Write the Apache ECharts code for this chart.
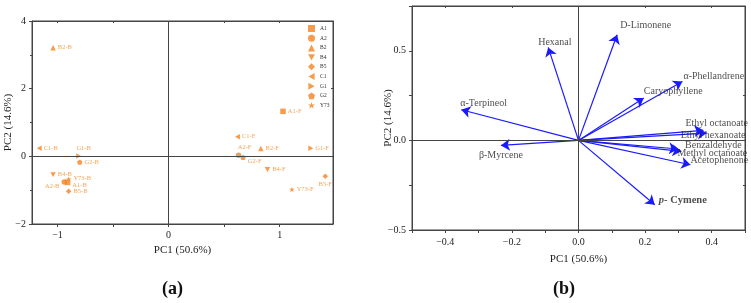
<!DOCTYPE html>
<html>
<head>
<meta charset="utf-8">
<script src="https://cdn.jsdelivr.net/npm/echarts@6/dist/echarts.min.js"></script>
<style>
  html, body { margin: 0; padding: 0; background: #fff; }
  #chart { width: 751px; height: 303px; }
</style>
</head>
<body>
<div id="chart"></div>
<script>
// ---- data (a): PCA scores ----
const groups = ["A1", "A2", "B2", "B4", "B5", "C1", "G1", "G2", "Y73"]
const scoreBX = [-0.91, -0.94, -1.04, -1.04, -0.90, -1.165, -0.81, -0.80, -0.90]
const scoreBY = [-0.77, -0.76, 3.21, -0.54, -1.03, 0.24, 0.01, -0.17, -0.67]
const scoreFX = [1.03, 0.63, 0.83, 0.89, 1.41, 0.62, 1.28, 0.67, 1.11]
const scoreFY = [1.33, 0.03, 0.23, -0.39, -0.59, 0.58, 0.24, -0.03, -0.98]

// ---- data (b): loadings ----
const compounds = ["α-Terpineol", "Hexanal", "D-Limonene", "α-Phellandrene", "Caryophyllene",
  "Ethyl octanoate", "Ethyl hexanoate", "Benzaldehyde", "Methyl octanoate", "Acetophenone",
  "p-Cymene", "β-Myrcene"]
const loadX = [-0.352, -0.091, 0.116, 0.312, 0.196, 0.375, 0.385, 0.299, 0.309, 0.336, 0.229, -0.233]
const loadY = [0.171, 0.519, 0.590, 0.329, 0.236, 0.056, 0.041, -0.048, -0.061, -0.136, -0.359, -0.028]

const fontFamily = "Liberation Serif"
const orange = "#f5821f"
const axisColor = "#444"

function starPath() {
  const pts = []
  for (let k = 0; k < 10; k++) {
    const r = k % 2 === 0 ? 5 : 2
    const a = (-90 + k * 36) * Math.PI / 180
    pts.push((5 + r * Math.cos(a)).toFixed(2) + "," + (5 + r * Math.sin(a)).toFixed(2))
  }
  return "path://M" + pts.join("L") + "Z"
}

const symbols = {
  A1: "rect",
  A2: "circle",
  B2: "triangle",
  B4: "path://M0,0L10,0L5,9Z",
  B5: "path://M5,0L10,5L5,10L0,5Z",
  C1: "path://M0,5L9,0L9,10Z",
  G1: "path://M0,0L9,5L0,10Z",
  G2: "path://M5,0L10,3.6L8.1,9.5L1.9,9.5L0,3.6Z",
  Y73: starPath()
}

// label placement for score points (a)
const scoreLabelPos = {
  "A2-B": { position: "left", offset: [0, 4] },
  "A1-B": { position: "right", offset: [0, 3] },
  "Y73-B": { position: "right", offset: [0, -1] },
  "G1-B": { position: "top", offset: [5, 1] },
  "A2-F": { position: "top", offset: [6, 0] },
  "G2-F": { position: "right", offset: [0, 4] },
  "B5-F": { position: "bottom", offset: [0, 0] }
}

// label offsets for loading arrows (b), relative to arrow tip
const loadLabelOffset = {
  "α-Terpineol": [-1, -6], "Hexanal": [-10, -5], "D-Limonene": [3, -9],
  "α-Phellandrene": [1, -5], "Caryophyllene": [0, -7], "Ethyl octanoate": [-18, -7],
  "Ethyl hexanoate": [-26, 2], "Benzaldehyde": [7, -4], "Methyl octanoate": [-4, 2],
  "Acetophenone": [0, -4], "p-Cymene": [4, -4], "β-Myrcene": [-22, 10]
}

const fmt = v => {
  const s = Math.abs(v) < 1e-9 ? (v === Math.round(v) ? "0" : "0.0") : String(v)
  return s.replace("-", "\u2212")
}

const chart = echarts.init(document.getElementById("chart"))

const commonAxis = {
  type: "value",
  splitLine: { show: false },
  nameMoveOverlap: false,
  axisLine: { show: true, onZero: false, lineStyle: { color: axisColor, width: 1 } },
  axisTick: { lineStyle: { color: axisColor } },
  axisLabel: { color: "#222", fontFamily, fontSize: 10 },
  nameTextStyle: { color: "#222", fontFamily, fontSize: 11 }
}

const scoreSeries = groups.map((g, i) => {
  const mk = (name, x, y) => {
    const p = scoreLabelPos[name] || { position: "right", offset: [0, 0] }
    return { name, value: [x, y], label: { position: p.position, offset: p.offset } }
  }
  const s = {
    name: g,
    type: "scatter",
    xAxisIndex: 0,
    yAxisIndex: 0,
    symbol: symbols[g],
    symbolSize: 5.5,
    symbolKeepAspect: true,
    itemStyle: { color: orange },
    label: {
      show: true,
      formatter: "{b}",
      color: "#f2902c",
      fontFamily,
      fontSize: 6.5,
      distance: 2
    },
    data: [mk(g + "-B", scoreBX[i], scoreBY[i]), mk(g + "-F", scoreFX[i], scoreFY[i])]
  }
  if (i === 0) {
    s.markLine = {
      silent: true,
      symbol: "none",
      label: { show: false },
      lineStyle: { color: axisColor, width: 1, type: "solid" },
      data: [{ xAxis: 0 }, { yAxis: 0 }]
    }
  }
  return s
})

const option = {
  animation: false,
  backgroundColor: "#fff",
  grid: [
    { left: 32, top: 21, width: 301, height: 203, show: true, borderColor: axisColor, borderWidth: 1 },
    { left: 412, top: 6, width: 333, height: 224, show: true, borderColor: axisColor, borderWidth: 1 }
  ],
  legend: {
    data: groups,
    orient: "vertical",
    left: 308,
    top: 25,
    itemWidth: 7,
    itemHeight: 7,
    itemGap: 2.75,
    padding: 0,
    textStyle: { fontFamily, fontSize: 5.5, color: "#333" }
  },
  xAxis: [
    Object.assign({}, commonAxis, {
      gridIndex: 0, min: -1.23, max: 1.48,
      name: "PC1 (50.6%)", nameLocation: "middle", nameGap: 21,
      axisTick: { show: true, length: 3, customValues: [-1, -0.5, 0, 0.5, 1], lineStyle: { color: axisColor } },
      axisLabel: Object.assign({}, commonAxis.axisLabel, { customValues: [-1, 0, 1], formatter: fmt, margin: 6 })
    }),
    Object.assign({}, commonAxis, {
      gridIndex: 1, min: -0.5, max: 0.5,
      name: "PC1 (50.6%)", nameLocation: "middle", nameGap: 24,
      axisTick: { show: true, length: 3, customValues: [-0.5, -0.4, -0.3, -0.2, -0.1, 0, 0.1, 0.2, 0.3, 0.4, 0.5], lineStyle: { color: axisColor } },
      axisLabel: Object.assign({}, commonAxis.axisLabel, {
        customValues: [-0.4, -0.2, 0, 0.2, 0.4],
        formatter: v => (v === 0 ? "0.0" : v.toFixed(1).replace("-", "\u2212")),
        margin: 7
      })
    }),
    Object.assign({}, commonAxis, {
      gridIndex: 0, position: "top", min: -1.23, max: 1.48,
      axisTick: { show: true, inside: true, length: 2, customValues: [-1, -0.5, 0, 0.5, 1], lineStyle: { color: axisColor } },
      axisLabel: { show: false }
    }),
    Object.assign({}, commonAxis, {
      gridIndex: 1, position: "top", min: -0.5, max: 0.5,
      axisTick: { show: true, inside: true, length: 2, customValues: [-0.4, -0.2, 0, 0.2, 0.4], lineStyle: { color: axisColor } },
      axisLabel: { show: false }
    })
  ],
  yAxis: [
    Object.assign({}, commonAxis, {
      gridIndex: 0, min: -2, max: 4, interval: 2,
      name: "PC2 (14.6%)", nameLocation: "middle", nameGap: 18,
      axisTick: { show: true, length: 3, lineStyle: { color: axisColor } },
      minorTick: { show: true, splitNumber: 2, length: 2, lineStyle: { color: axisColor } },
      axisLabel: Object.assign({}, commonAxis.axisLabel, { formatter: fmt, margin: 6 })
    }),
    Object.assign({}, commonAxis, {
      gridIndex: 1, min: -0.5, max: 0.75,
      name: "PC2 (14.6%)", nameLocation: "middle", nameGap: 18,
      axisTick: { show: true, length: 3, customValues: [-0.5, -0.25, 0, 0.25, 0.5, 0.75], lineStyle: { color: axisColor } },
      axisLabel: Object.assign({}, commonAxis.axisLabel, {
        customValues: [-0.5, 0, 0.5],
        formatter: v => (v === 0 ? "0.0" : v.toFixed(1).replace("-", "\u2212")),
        margin: 6
      })
    }),
    Object.assign({}, commonAxis, {
      gridIndex: 0, position: "right", min: -2, max: 4, interval: 2,
      axisTick: { show: true, inside: true, length: 2, lineStyle: { color: axisColor } },
      axisLabel: { show: false }
    }),
    Object.assign({}, commonAxis, {
      gridIndex: 1, position: "right", min: -0.5, max: 0.75,
      axisTick: { show: true, inside: true, length: 2, customValues: [-0.25, 0.25], lineStyle: { color: axisColor } },
      axisLabel: { show: false }
    })
  ],
  series: scoreSeries.concat([
    {
      type: "lines",
      coordinateSystem: "cartesian2d",
      xAxisIndex: 1,
      yAxisIndex: 1,
      symbol: ["none", "arrow"],
      symbolSize: [6, 9],
      silent: true,
      lineStyle: { color: "#1a1aff", width: 1.2, opacity: 1 },
      data: compounds.map((c, i) => ({ coords: [[0, 0], [loadX[i], loadY[i]]] })),
      markLine: {
        silent: true,
        symbol: "none",
        label: { show: false },
        lineStyle: { color: axisColor, width: 1, type: "solid" },
        data: [{ xAxis: 0 }, { yAxis: 0 }]
      }
    },
    {
      type: "scatter",
      xAxisIndex: 1,
      yAxisIndex: 1,
      symbolSize: 0,
      silent: true,
      data: compounds.map((c, i) => {
        const isCym = c === "p-Cymene"
        return {
          name: c,
          value: [loadX[i], loadY[i]],
          label: {
            show: true,
            position: [0, 0],
            offset: loadLabelOffset[c],
            align: "left",
            verticalAlign: "middle",
            formatter: isCym ? "{i|p}{b|- Cymene}" : "{b}",
            color: "#222",
            fontFamily,
            fontSize: 10,
            rich: {
              i: { fontStyle: "italic", fontWeight: "bold", fontFamily, fontSize: 10.5, color: "#222" },
              b: { fontWeight: "bold", fontFamily, fontSize: 10.5, color: "#222" }
            }
          }
        }
      })
    }
  ]),
  graphic: [
    { type: "text", left: 162, top: 280, style: { text: "(a)", font: "bold 18px 'Liberation Serif'", fill: "#111" } },
    { type: "text", left: 553, top: 280, style: { text: "(b)", font: "bold 18px 'Liberation Serif'", fill: "#111" } }
  ]
}

chart.setOption(option)
</script>
</body>
</html>
